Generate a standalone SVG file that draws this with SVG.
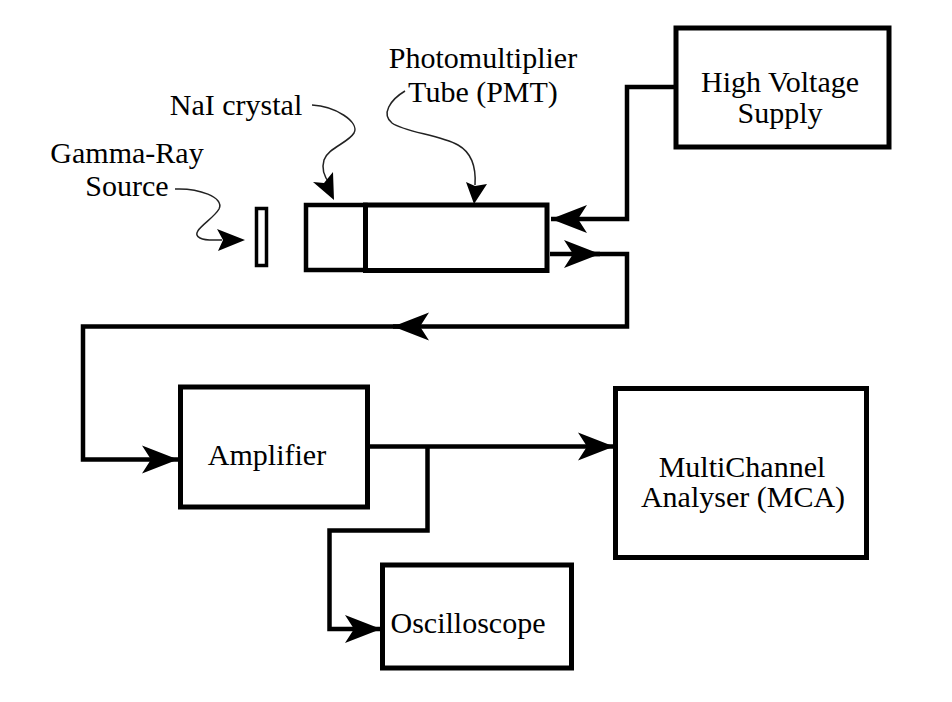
<svg xmlns="http://www.w3.org/2000/svg" width="952" height="702" viewBox="0 0 952 702">
<defs>
<marker id="ah" markerUnits="userSpaceOnUse" markerWidth="1" markerHeight="1" refX="0" refY="0" orient="auto" overflow="visible">
<path d="M0,0 L-36,-14 L-27,0 L-36,14 Z" fill="#000"/>
</marker>
</defs>
<style>
.box{fill:#fff;stroke:#000;stroke-width:5}
.wire{fill:none;stroke:#000;stroke-width:4.5}
.lead{fill:none;stroke:#222;stroke-width:1.5}
.lbl{font-family:"Liberation Serif","Times New Roman",serif;font-size:30px;fill:#000;text-anchor:middle}
</style>
<rect width="952" height="702" fill="#fff"/>
<g id="connectors">
<path class="wire" d="M676,87 H627 V219 H551" marker-end="url(#ah)"/>
<path class="wire" d="M550,254 H600" marker-end="url(#ah)"/>
<path class="wire" d="M590,254 H627 V326.5 H393" marker-end="url(#ah)"/>
<path class="wire" d="M400,326.5 H83 V459.5 H178" marker-end="url(#ah)"/>
<path class="wire" d="M368,446.5 H614" marker-end="url(#ah)"/>
<path class="wire" d="M427.5,446.5 V530.5 H329.5 V629 H381" marker-end="url(#ah)"/>
<path class="lead" d="M175,189 C198,188 225,197 219,209 C213,220 188,232 200,238 C206,241 212,240 222,240"/>
<path d="M245,240 L217,229 L223,240 L218,251 Z" fill="#000"/>
<path class="lead" d="M312,105 C335,106 360,122 354,133 C348,143 328,148 324,160 C321,170 325,178 330,184"/>
<path d="M334,200 L313,182 L324,183 L333,172 Z" fill="#000"/>
<path class="lead" d="M405,91 C390,100 381,114 392,123 C404,132 440,135 458,145 C474,154 476,170 475,185"/>
<path d="M474,204 L466,182 L475,186 L487,184 Z" fill="#000"/>
</g>
<g id="hv">
<rect class="box" x="676" y="28" width="213" height="119"/>
<text class="lbl" x="780" y="92">High Voltage</text>
<text class="lbl" x="780" y="123">Supply</text>
</g>
<g id="source">
<rect x="256.5" y="208.5" width="10" height="57" fill="#fff" stroke="#000" stroke-width="3.5"/>
<text class="lbl" x="127" y="163">Gamma-Ray</text>
<text class="lbl" x="127" y="196">Source</text>
</g>
<g id="nai">
<rect x="306" y="205" width="59.5" height="65" fill="#fff" stroke="#000" stroke-width="4.5"/>
<text class="lbl" x="236" y="115">NaI crystal</text>
</g>
<g id="pmt">
<rect class="box" x="365.5" y="205" width="181.5" height="65.5"/>
<text class="lbl" x="483" y="68">Photomultiplier</text>
<text class="lbl" x="483" y="102">Tube (PMT)</text>
</g>
<g id="amplifier">
<rect class="box" x="180.5" y="387" width="187" height="120"/>
<text class="lbl" x="267" y="465">Amplifier</text>
</g>
<g id="mca">
<rect class="box" x="615.5" y="388.5" width="251" height="169"/>
<text class="lbl" x="742" y="477">MultiChannel</text>
<text class="lbl" x="743" y="507">Analyser (MCA)</text>
</g>
<g id="oscilloscope">
<rect class="box" x="382.5" y="565" width="189" height="103"/>
<text class="lbl" x="468" y="633">Oscilloscope</text>
</g>
</svg>
